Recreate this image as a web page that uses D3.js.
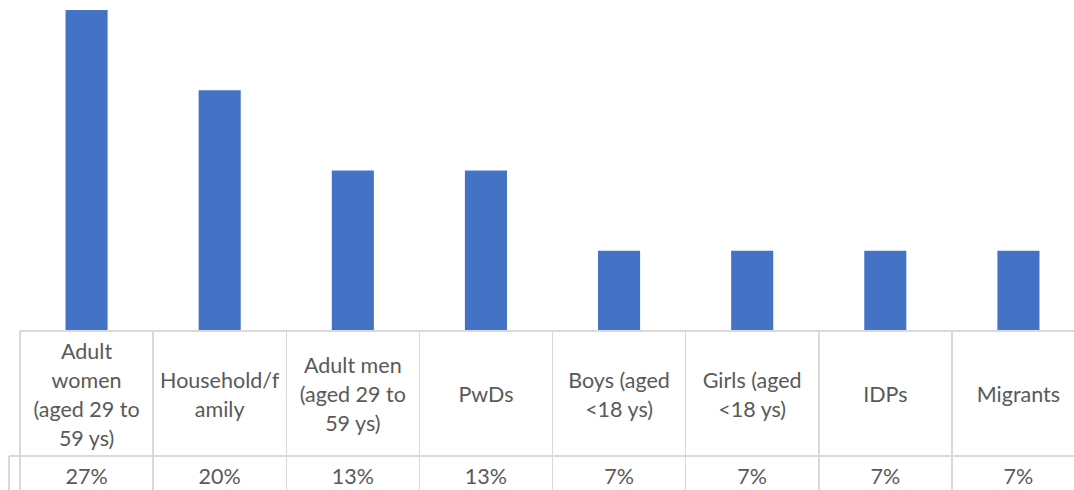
<!DOCTYPE html>
<html>
<head>
<meta charset="utf-8">
<script src="https://cdn.jsdelivr.net/npm/d3@7"></script>
<style>
  html, body { margin: 0; padding: 0; background: #fff; }
  svg { display: block; }
  text { font-family: Lato, "Open Sans", sans-serif; fill: #595959; }
</style>
</head>
<body>
<svg id="chart" width="1074" height="490"></svg>
<script>
// Share of respondents by group (counts out of 15)
const categories = [
  "Adult women (aged 29 to 59 ys)",
  "Household/family",
  "Adult men (aged 29 to 59 ys)",
  "PwDs",
  "Boys (aged <18 ys)",
  "Girls (aged <18 ys)",
  "IDPs",
  "Migrants"
];
// Wrapped label lines as shown in the table header cells
const categoryLines = [
  ["Adult", "women", "(aged 29 to", "59 ys)"],
  ["Household/f", "amily"],
  ["Adult men", "(aged 29 to", "59 ys)"],
  ["PwDs"],
  ["Boys (aged", "<18 ys)"],
  ["Girls (aged", "<18 ys)"],
  ["IDPs"],
  ["Migrants"]
];
const values = [4 / 15, 3 / 15, 2 / 15, 2 / 15, 1 / 15, 1 / 15, 1 / 15, 1 / 15];
const yDomainMax = 0.30;

const svg = d3.select("#chart");
const left = 20, right = 1085;
const baseline = 331;
const rowSplit = 456;
const tableBottom = 500;
const gridColor = "#d9d9d9";
const fontSize = 21.5;

const x = d3.scaleBand()
  .domain(categories)
  .range([left, right])
  .paddingInner(0.684)
  .paddingOuter(0.342);

const y = d3.scaleLinear()
  .domain([0, yDomainMax])
  .range([baseline, baseline - 1203.6 * yDomainMax]);

const step = x.step();
const colStart = i => left + i * step;

// Bars
svg.append("g")
  .selectAll("rect")
  .data(values)
  .join("rect")
  .attr("x", (d, i) => x(categories[i]))
  .attr("y", d => y(d))
  .attr("width", x.bandwidth())
  .attr("height", d => y(0) - y(d))
  .attr("fill", "#4472c4");

// Data table grid
const grid = svg.append("g")
  .attr("stroke", gridColor)
  .attr("stroke-width", 1.5)
  .attr("shape-rendering", "crispEdges");

grid.append("line")
  .attr("x1", left).attr("x2", right)
  .attr("y1", baseline).attr("y2", baseline);
grid.append("line")
  .attr("x1", 9).attr("x2", right)
  .attr("y1", rowSplit).attr("y2", rowSplit);
grid.append("line")
  .attr("x1", 9).attr("x2", 9)
  .attr("y1", rowSplit).attr("y2", tableBottom);

grid.selectAll("line.col")
  .data(d3.range(categories.length + 1))
  .join("line")
  .attr("class", "col")
  .attr("x1", i => colStart(i)).attr("x2", i => colStart(i))
  .attr("y1", baseline).attr("y2", tableBottom);

// Header cell labels
const lineH = 29;
const headerMid = (baseline + rowSplit) / 2 + 1;
const labels = svg.append("g")
  .attr("font-size", fontSize)
  .attr("text-anchor", "middle");

categories.forEach((c, i) => {
  const lines = categoryLines[i];
  const cx = x(c) + x.bandwidth() / 2;
  const top = headerMid - (lines.length - 1) * lineH / 2;
  labels.append("text")
    .selectAll("tspan")
    .data(lines)
    .join("tspan")
    .attr("x", cx)
    .attr("y", (ln, j) => top + j * lineH)
    .attr("dy", "0.36em")
    .text(ln => ln);
});

// Value row
const fmt = d3.format(".0%");
svg.append("g")
  .attr("font-size", fontSize)
  .attr("text-anchor", "middle")
  .selectAll("text")
  .data(values)
  .join("text")
  .attr("x", (d, i) => x(categories[i]) + x.bandwidth() / 2)
  .attr("y", 476)
  .attr("dy", "0.36em")
  .text(d => fmt(d));
</script>
</body>
</html>
